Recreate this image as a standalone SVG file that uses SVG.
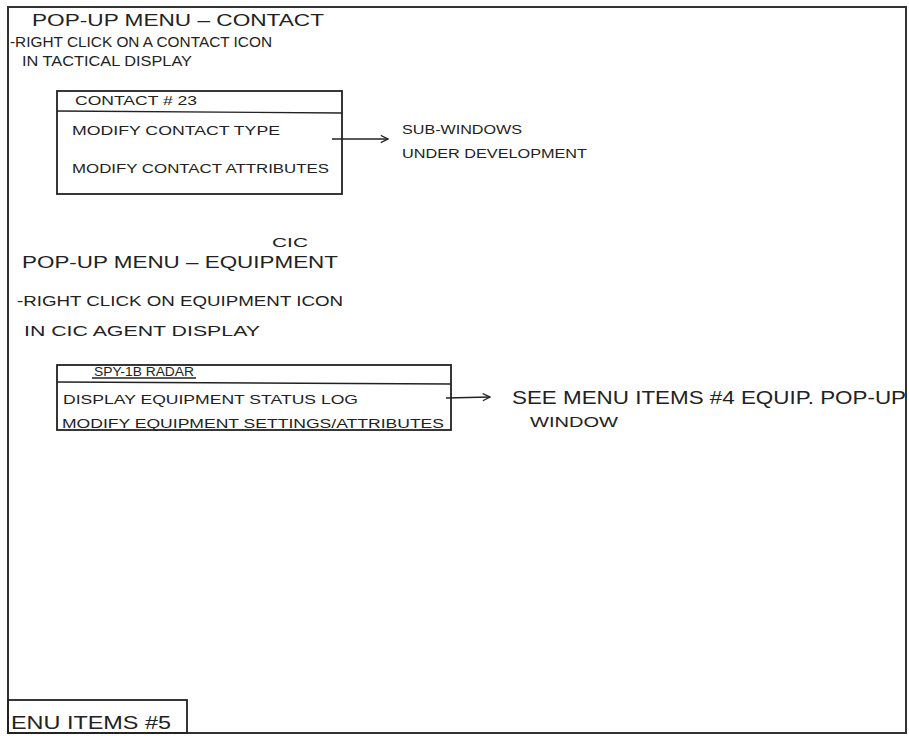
<svg xmlns="http://www.w3.org/2000/svg" width="909" height="736" viewBox="0 0 909 736">
  <style>
    .t { font-family: "Liberation Sans", Arial, sans-serif; fill: #222; }
    .h { font-size: 17px; }
    .m { font-size: 14px; }
    .s { font-size: 12px; }
    .b { font-size: 18px; }
    .box { fill: none; stroke: #222; stroke-width: 1.8; }
    .ln { fill: none; stroke: #222; stroke-width: 1.4; }
  </style>
  <defs>
    <marker id="arr" viewBox="0 0 10 10" refX="9" refY="5" markerWidth="9" markerHeight="9" markerUnits="userSpaceOnUse" orient="auto">
      <path d="M1,1 L9,5 L1,9" fill="none" stroke="#222" stroke-width="1.4"/>
    </marker>
  </defs>
  <rect x="0" y="0" width="909" height="736" fill="#ffffff"/>
  <rect id="frame" x="8" y="7" width="898" height="726" fill="none" stroke="#333" stroke-width="2"/>

  <g id="section-contact">
    <text class="t h" x="32" y="26" textLength="292" lengthAdjust="spacingAndGlyphs">POP-UP MENU – CONTACT</text>
    <text class="t m" x="10" y="47" textLength="262" lengthAdjust="spacingAndGlyphs">-RIGHT CLICK ON A CONTACT ICON</text>
    <text class="t m" x="22" y="66" textLength="170" lengthAdjust="spacingAndGlyphs">IN TACTICAL DISPLAY</text>
  </g>

  <g id="contact-menu">
    <rect class="box" x="57" y="91" width="285" height="103"/>
    <line class="ln" x1="57" y1="111" x2="342" y2="113"/>
    <text class="t s" x="75" y="105" textLength="122" lengthAdjust="spacingAndGlyphs">CONTACT # 23</text>
    <text class="t s" x="72" y="135" textLength="208" lengthAdjust="spacingAndGlyphs">MODIFY CONTACT TYPE</text>
    <text class="t s" x="72" y="173" textLength="257" lengthAdjust="spacingAndGlyphs">MODIFY CONTACT ATTRIBUTES</text>
  </g>

  <g id="note-subwindows">
    <text class="t s" x="402" y="134" textLength="120" lengthAdjust="spacingAndGlyphs">SUB-WINDOWS</text>
    <text class="t s" x="402" y="158" textLength="185" lengthAdjust="spacingAndGlyphs">UNDER DEVELOPMENT</text>
  </g>

  <g id="section-equipment">
    <text class="t s" x="272" y="247" textLength="36" lengthAdjust="spacingAndGlyphs">CIC</text>
    <text class="t h" x="22" y="268" textLength="316" lengthAdjust="spacingAndGlyphs">POP-UP MENU – EQUIPMENT</text>
    <text class="t m" x="17" y="306" textLength="326" lengthAdjust="spacingAndGlyphs">-RIGHT CLICK ON EQUIPMENT ICON</text>
    <text class="t m" x="24" y="336" textLength="236" lengthAdjust="spacingAndGlyphs">IN CIC AGENT DISPLAY</text>
  </g>

  <g id="equipment-menu">
    <rect class="box" x="57" y="365" width="394" height="65"/>
    <line class="ln" x1="57" y1="382" x2="451" y2="384"/>
    <line class="ln" x1="92" y1="378" x2="196" y2="378"/>
    <text class="t s" x="94" y="376" textLength="100" lengthAdjust="spacingAndGlyphs">SPY-1B RADAR</text>
    <text class="t s" x="63" y="404" textLength="295" lengthAdjust="spacingAndGlyphs">DISPLAY EQUIPMENT STATUS LOG</text>
    <text class="t s" x="62" y="428" textLength="382" lengthAdjust="spacingAndGlyphs">MODIFY EQUIPMENT SETTINGS/ATTRIBUTES</text>
  </g>

  <g id="note-see-menu">
    <text class="t b" x="512" y="404" textLength="394" lengthAdjust="spacingAndGlyphs">SEE MENU ITEMS #4 EQUIP. POP-UP</text>
    <text class="t m" x="530" y="427" textLength="88" lengthAdjust="spacingAndGlyphs">WINDOW</text>
  </g>

  <g id="page-label">
    <rect class="box" x="8" y="700" width="179" height="33"/>
    <text class="t b" x="11" y="729" textLength="160" lengthAdjust="spacingAndGlyphs">ENU ITEMS #5</text>
  </g>

  <g id="connectors">
    <line class="ln" x1="446" y1="398" x2="490" y2="397" marker-end="url(#arr)"/>
    <line class="ln" x1="332" y1="139" x2="388" y2="139" marker-end="url(#arr)"/>
  </g>
</svg>
